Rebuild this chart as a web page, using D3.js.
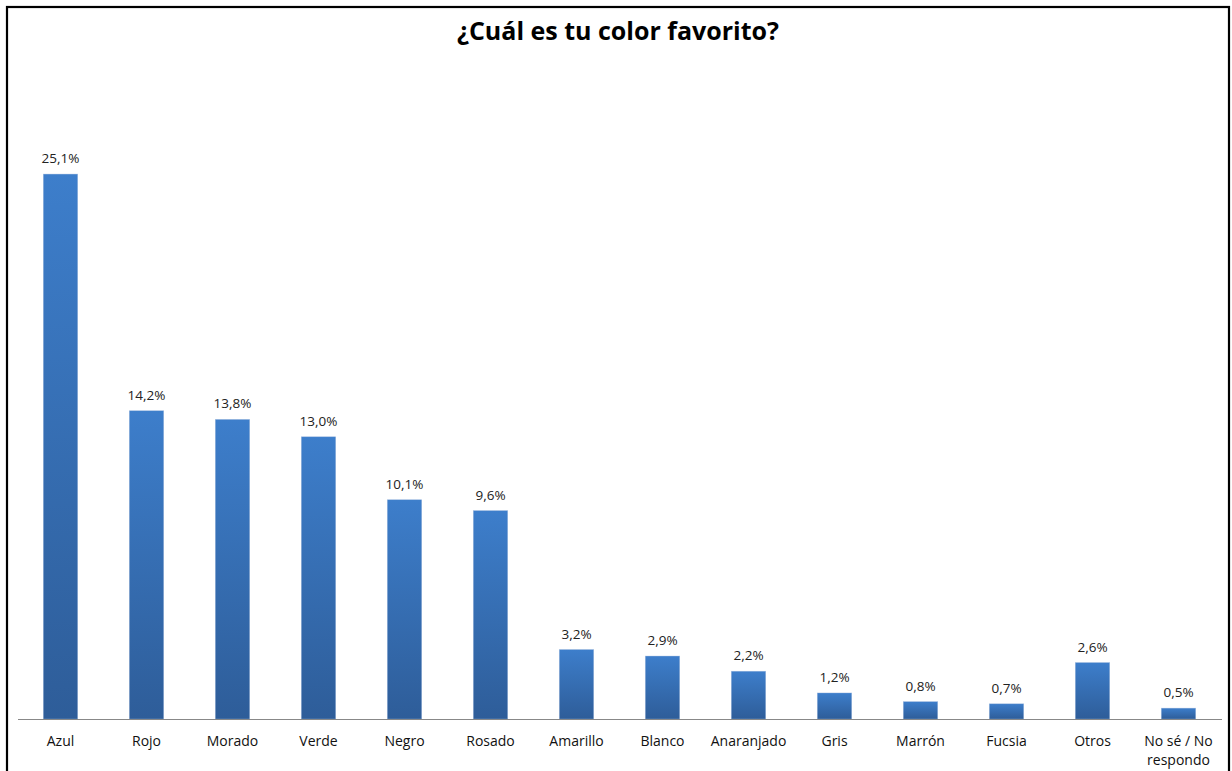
<!DOCTYPE html>
<html><head><meta charset="utf-8">
<script src="https://cdn.jsdelivr.net/npm/d3@7/dist/d3.min.js"></script>
<style>
html,body{margin:0;padding:0;background:#fff;}
svg{display:block;}
</style></head>
<body>
<script>
const categories = ["Azul","Rojo","Morado","Verde","Negro","Rosado","Amarillo","Blanco","Anaranjado","Gris","Marrón","Fucsia","Otros","No sé / No respondo"];
const values = [25.1,14.2,13.8,13.0,10.1,9.6,3.2,2.9,2.2,1.2,0.8,0.7,2.6,0.5];
const valueLabels = ["25,1%","14,2%","13,8%","13,0%","10,1%","9,6%","3,2%","2,9%","2,2%","1,2%","0,8%","0,7%","2,6%","0,5%"];
const title = "¿Cuál es tu color favorito?";

const W = 1232, H = 771;
const svg = d3.select("body").append("svg").attr("width", W).attr("height", H);

const defs = svg.append("defs");
const grad = defs.append("linearGradient").attr("id","barGrad")
  .attr("x1",0).attr("y1",0).attr("x2",0).attr("y2",1);
grad.append("stop").attr("offset","0%").attr("stop-color","#3d7ecb");
grad.append("stop").attr("offset","100%").attr("stop-color","#2e5d99");

// frame
svg.append("rect").attr("x",7).attr("y",7).attr("width",1222).attr("height",H+10)
  .attr("fill","#fff").attr("stroke","#000").attr("stroke-width",2.2);

const baseY = 719;
const x = d3.scaleBand().domain(categories).range([17.5,1221.5]).paddingInner(0.6).paddingOuter(0.3);
const y = d3.scaleLinear().domain([0,30]).range([baseY, baseY - 30*21.71]);

const font = "'Open Sans', 'DejaVu Sans', sans-serif";

svg.append("text").attr("x",618).attr("y",40).attr("text-anchor","middle")
  .attr("font-family",font).attr("font-weight","bold")
  .attr("font-size",25).attr("fill","#000").text(title);

svg.selectAll("rect.bar").data(values).enter().append("rect").attr("class","bar")
  .attr("x",(d,i)=>x(categories[i])).attr("width",x.bandwidth())
  .attr("y",d=>y(d)).attr("height",d=>baseY-y(d))
  .attr("fill","url(#barGrad)").attr("stroke","#9fb8dc").attr("stroke-width",0.6).attr("stroke-opacity",0.6);

svg.selectAll("text.val").data(values).enter().append("text").attr("class","val")
  .attr("x",(d,i)=>x(categories[i])+x.bandwidth()/2).attr("y",d=>y(d)-11)
  .attr("text-anchor","middle").attr("font-family",font).attr("font-size",13.5).attr("fill","#222")
  .text((d,i)=>valueLabels[i]);

// axis
const axis = d3.axisBottom(x).tickSize(0).tickPadding(0);
const gA = svg.append("g").attr("transform",`translate(0,${baseY})`).call(axis);
gA.select(".domain").attr("stroke","#888").attr("stroke-width",1.2);
gA.selectAll(".tick text").remove();
gA.selectAll(".tick").each(function(c){
  const t = d3.select(this).append("text").attr("text-anchor","middle")
    .attr("font-family",font).attr("font-size",14).attr("fill","#111");
  if (c === "No sé / No respondo") {
    t.append("tspan").attr("x",0).attr("y",27).text("No sé / No");
    t.append("tspan").attr("x",0).attr("y",46).text("respondo");
  } else {
    t.attr("y",27).text(c);
  }
});
</script>
</body></html>
